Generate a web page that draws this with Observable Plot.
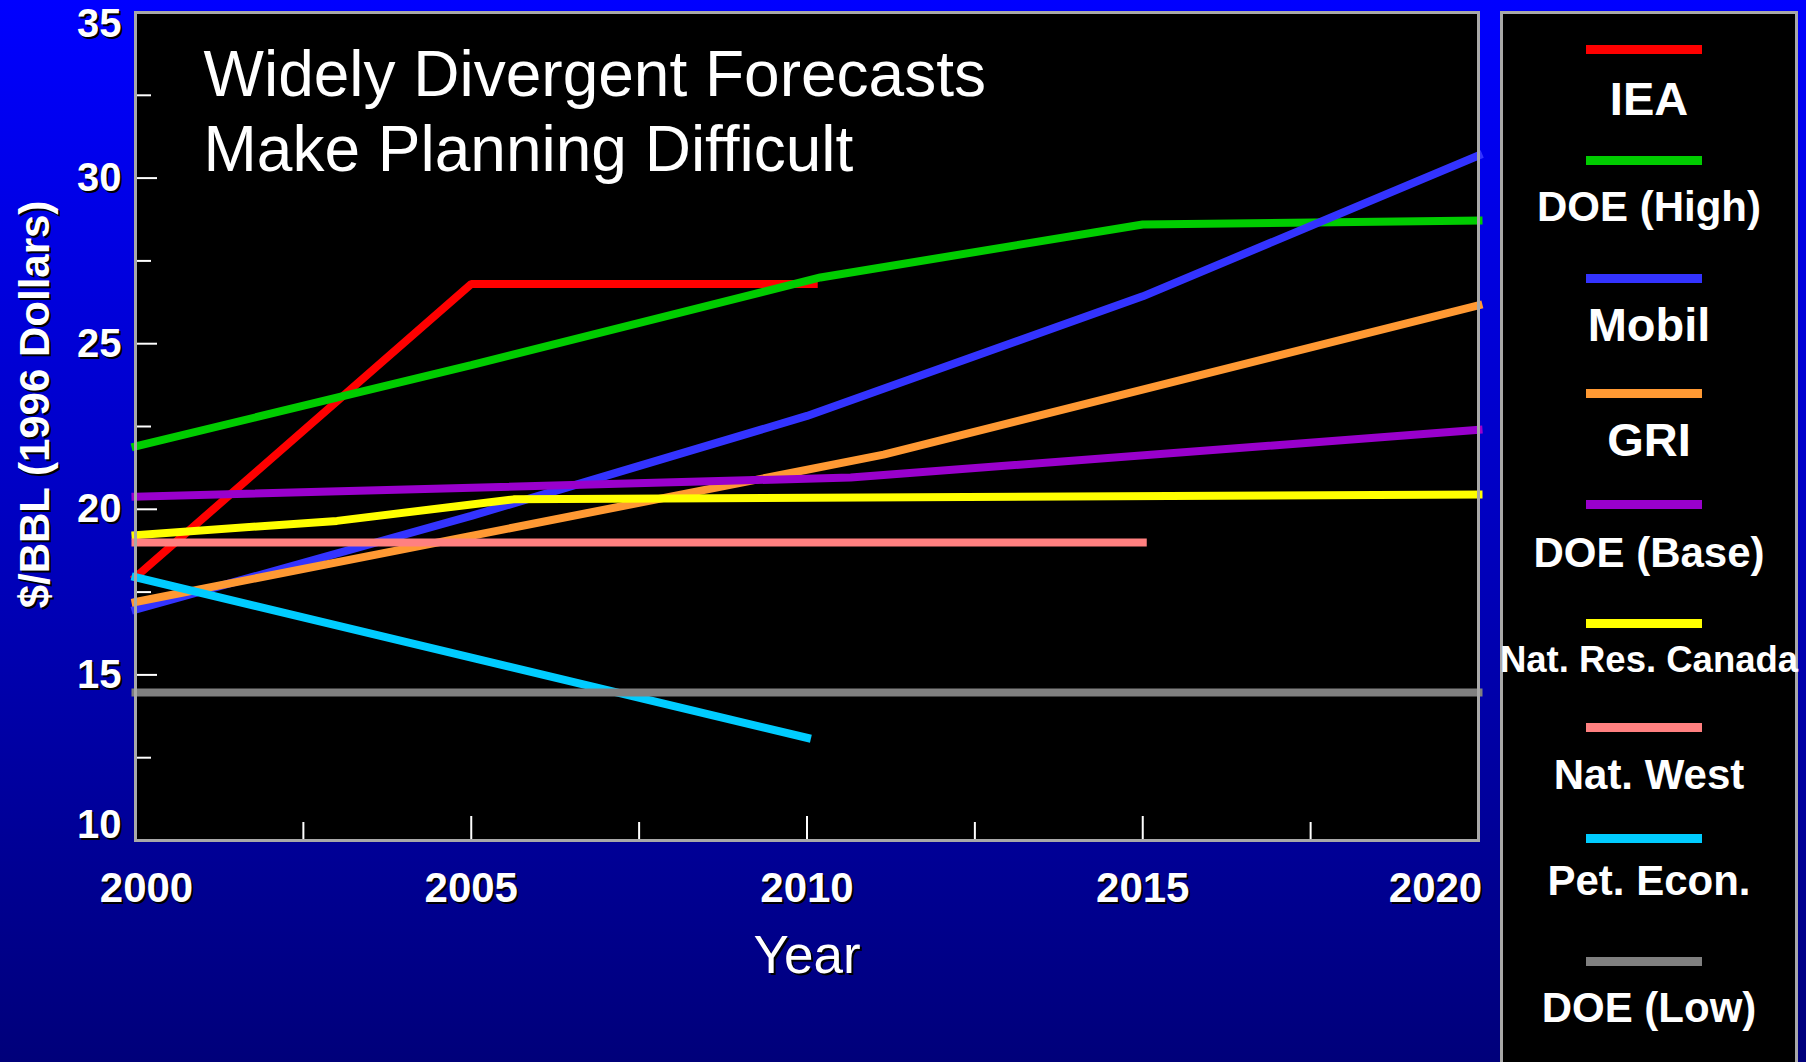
<!DOCTYPE html>
<html>
<head>
<meta charset="utf-8">
<script src="https://cdn.jsdelivr.net/npm/d3@7"></script>
<script src="https://cdn.jsdelivr.net/npm/@observablehq/plot@0.6"></script>
<style>
  html, body { margin: 0; padding: 0; width: 1806px; height: 1062px; overflow: hidden; }
  body {
    position: relative;
    background: linear-gradient(to bottom, #0000ff 0%, #0000c6 45%, #00007a 100%);
    font-family: "Liberation Sans", Arial, sans-serif;
  }
  #chart { position: absolute; left: 0; top: 0; }
  #legend {
    position: absolute; left: 1500px; top: 11px; width: 292px; height: 1100px;
    border: 3px solid #a8a8a8; background: #000;
  }
  .swatch { position: absolute; width: 116px; height: 9px; left: 83px; }
  .lab { position: absolute; left: 146px; transform: translateX(-50%); color: #fff; font-weight: bold; line-height: 1; white-space: nowrap; }
</style>
</head>
<body>
<div id="chart"></div>
<div id="legend"></div>
<script>
// ---- data ----
const seriesNames = ["IEA", "DOE (High)", "Mobil", "GRI", "DOE (Base)", "Nat. Res. Canada", "Nat. West", "Pet. Econ.", "DOE (Low)"];

const ieaYears = [2000, 2005, 2010.1];
const ieaPrice = [17.95, 26.8, 26.8];
const doeHighYears = [2000, 2005, 2010.2, 2015, 2020];
const doeHighPrice = [21.9, 24.35, 27.0, 28.6, 28.72];
const mobilYears = [2000, 2005, 2010, 2015, 2020];
const mobilPrice = [16.97, 19.8, 22.82, 26.43, 30.68];
const griYears = [2000, 2011.14, 2020];
const griPrice = [17.2, 21.65, 26.16];
const doeBaseYears = [2000, 2010.65, 2020];
const doeBasePrice = [20.38, 20.96, 22.4];
const nrcYears = [2000, 2003, 2005.63, 2020];
const nrcPrice = [19.22, 19.65, 20.3, 20.45];
const natWestYears = [2000, 2015];
const natWestPrice = [19.0, 19.0];
const petEconYears = [2000, 2010];
const petEconPrice = [17.95, 13.1];
const doeLowYears = [2000, 2020];
const doeLowPrice = [14.47, 14.47];

const xTickLabels = [2000, 2005, 2010, 2015, 2020];
const xMajorTicks = [2005, 2010, 2015];
const xMinorTicks = [2002.5, 2007.5, 2012.5, 2017.5];
const yTickLabels = [10, 15, 20, 25, 30, 35];
const yMajorTicks = [15, 20, 25, 30];
const yMinorTicks = [12.5, 17.5, 22.5, 27.5, 32.5];

const titleLines = ["Widely Divergent Forecasts", "Make Planning Difficult"];
const xTitle = "Year";
const yTitle = "$/BBL (1996 Dollars)";

// ---- styles / layout ----
const seriesColors = ["#ff0000", "#00cc00", "#3333ff", "#ff9933", "#9900cc", "#ffff00", "#ff8080", "#00ccff", "#808080"];
const legendFontSize = { "IEA": 47, "Mobil": 47, "GRI": 47, "Nat. Res. Canada": 36.5 };
const legendSwatchCenters = [49.3, 160.3, 278.3, 393.3, 504.3, 623.3, 727.3, 838.3, 961.7];
const legendLabelCenters = [97.5, 206.7, 323.7, 438.8, 552.5, 660, 774.2, 880.8, 1007.5];

// ---- table for the library ----
const seriesYears = [ieaYears, doeHighYears, mobilYears, griYears, doeBaseYears, nrcYears, natWestYears, petEconYears, doeLowYears];
const seriesPrices = [ieaPrice, doeHighPrice, mobilPrice, griPrice, doeBasePrice, nrcPrice, natWestPrice, petEconPrice, doeLowPrice];
const rows = [];
seriesNames.forEach((name, i) => {
  seriesYears[i].forEach((yr, j) => rows.push({ series: name, year: yr, price: seriesPrices[i][j] }));
});

const W = 1806, H = 1062;
const mL = 135, mT = 12, mR = W - 1478, mB = H - 840;
const plotW = W - mL - mR, plotH = H - mT - mB;
const font = "'Liberation Sans', Arial, sans-serif";
const fmt = d => String(d);

const axisTextBase = { tickSize: 0, label: null, fontWeight: "bold", tickFormat: fmt };
function shadowed(fn, data, opts) {
  return [
    fn(data, { ...opts, fill: "black", dx: (opts.dx || 0) + 2, dy: (opts.dy || 0) + 2 }),
    fn(data, { ...opts, fill: "white" })
  ];
}

const chart = Plot.plot({
  width: W, height: H,
  marginLeft: mL, marginTop: mT, marginRight: mR, marginBottom: mB,
  style: { background: "transparent", fontFamily: font, overflow: "visible" },
  x: { domain: [2000, 2020], axis: null },
  y: { domain: [10, 35], axis: null },
  color: { domain: seriesNames, range: seriesColors },
  marks: [
    Plot.frame({ fill: "black", stroke: "none" }),
    Plot.line(rows, { x: "year", y: "price", z: "series", stroke: "series", strokeWidth: 8, strokeLinecap: "square", strokeLinejoin: "miter" }),
    Plot.tickY(yMajorTicks, { y: d => d, stroke: "white", strokeWidth: 2, insetRight: plotW - 22 }),
    Plot.tickY(yMinorTicks, { y: d => d, stroke: "white", strokeWidth: 2, insetRight: plotW - 16 }),
    Plot.tickX(xMajorTicks, { x: d => d, stroke: "white", strokeWidth: 2, insetTop: plotH - 24 }),
    Plot.tickX(xMinorTicks, { x: d => d, stroke: "white", strokeWidth: 2, insetTop: plotH - 18 }),
    Plot.frame({ stroke: "#a8a8a8", strokeWidth: 3 }),
    // y tick labels
    ...shadowed(Plot.axisY, yTickLabels.filter(d => d > 10 && d < 35), { ...axisTextBase, anchor: "left", tickPadding: 14, fontSize: 40 }),
    ...shadowed(Plot.axisY, [35], { ...axisTextBase, anchor: "left", tickPadding: 14, fontSize: 40, dy: 12 }),
    ...shadowed(Plot.axisY, [10], { ...axisTextBase, anchor: "left", tickPadding: 14, fontSize: 40, dy: -15 }),
    // x tick labels
    ...shadowed(Plot.axisX, xTickLabels.filter(d => d > 2000 && d < 2020), { ...axisTextBase, anchor: "bottom", tickPadding: 32, fontSize: 42 }),
    ...shadowed(Plot.axisX, [2000], { ...axisTextBase, anchor: "bottom", tickPadding: 32, fontSize: 42, dx: 11 }),
    ...shadowed(Plot.axisX, [2020], { ...axisTextBase, anchor: "bottom", tickPadding: 32, fontSize: 42, dx: -43 }),
    // axis titles
    ...shadowed(Plot.text, [xTitle], { text: d => d, frameAnchor: "bottom", textAnchor: "middle", lineAnchor: "middle", dy: 116, fontSize: 53 }),
    ...shadowed(Plot.text, [yTitle], { text: d => d, frameAnchor: "left", textAnchor: "middle", rotate: -90, lineAnchor: "middle", dx: -100, dy: -22, fontSize: 42, fontWeight: "bold" }),
    // in-plot title
    Plot.text([titleLines.join("\n")], { text: d => d, frameAnchor: "top-left", textAnchor: "start", lineAnchor: "top", lineHeight: 1.17, dx: 68, dy: 30, fontSize: 64, fill: "white" })
  ]
});
document.getElementById("chart").appendChild(chart);

// ---- legend ----
const legendInnerTop = 14; // legend top + border
const legend = d3.select("#legend");
seriesNames.forEach((name, i) => {
  const fs = legendFontSize[name] || 42;
  legend.append("div").attr("class", "swatch")
    .style("top", (legendSwatchCenters[i] - 4.5 - legendInnerTop) + "px")
    .style("background", seriesColors[i]);
  legend.append("div").attr("class", "lab")
    .style("font-size", fs + "px")
    .style("top", (legendLabelCenters[i] - 0.4885 * fs - legendInnerTop) + "px")
    .text(name);
});
</script>
</body>
</html>
